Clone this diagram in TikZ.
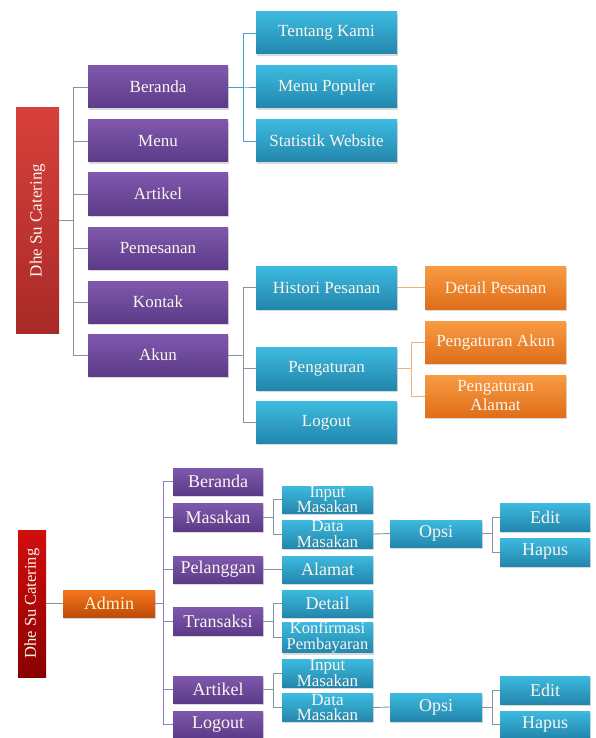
\documentclass[tikz,border=0pt]{standalone}
\usepackage{fontspec}
\setmainfont{Liberation Serif}
\usetikzlibrary{shadows}
\definecolor{purpT}{HTML}{7F58AD}
\definecolor{purpB}{HTML}{5C3B88}
\definecolor{cyanT}{HTML}{3DBAE0}
\definecolor{cyanB}{HTML}{2386AC}
\definecolor{oranT}{HTML}{F89B42}
\definecolor{oranB}{HTML}{E06E1A}
\definecolor{redT}{HTML}{D7403B}
\definecolor{redB}{HTML}{A82A27}
\definecolor{dredT}{HTML}{D20E0E}
\definecolor{dredB}{HTML}{8A0000}
\definecolor{admT}{HTML}{F5761E}
\definecolor{admB}{HTML}{BE4C08}
\definecolor{lgray}{HTML}{8494A3}
\definecolor{lteal}{HTML}{47A3C4}
\definecolor{lorng}{HTML}{F2B07A}
\definecolor{lpurp}{HTML}{8E80B6}
\definecolor{txtc}{HTML}{FBF6EE}
\tikzset{
  base/.style={inner sep=0pt, align=center, text=txtc,
    drop shadow={shadow xshift=1.2pt, shadow yshift=-1.8pt, opacity=0.3}},
  bigtxt/.style={font=\fontsize{17}{19}\selectfont},
  smltxt/.style={font=\fontsize{18}{15.5}\selectfont},
  twotxt/.style={font=\fontsize{17}{15.5}\selectfont},
  purp/.style={base, top color=purpT, bottom color=purpB},
  cyanbox/.style={base, top color=cyanT, bottom color=cyanB},
  oran/.style={base, top color=oranT, bottom color=oranB},
  redbox/.style={inner sep=0pt, align=center, text=txtc, top color=redT, bottom color=redB},
  dredbox/.style={inner sep=0pt, align=center, text=txtc, top color=dredT, bottom color=dredB},
  admbox/.style={base, top color=admT, bottom color=admB, text=txtc!85!yellow},
  cg/.style={draw=lgray, line width=0.9pt},
  ct/.style={draw=lteal, line width=0.9pt},
  co/.style={draw=lorng, line width=0.9pt},
  cp/.style={draw=lpurp, line width=0.9pt},
}
\newcommand\bx[7]{\node[#2, minimum width=#5pt, minimum height=#6pt] (#1) at (#3,#4) {#7};}
\begin{document}
\begin{tikzpicture}[x=1pt,y=-1pt]
\useasboundingbox (0,0) rectangle (595,738);
% ---------- top diagram ----------
\node[redbox, bigtxt, rotate=90, minimum width=225pt, minimum height=43pt] (r1) at (37.5,220.5) {Dhe Su Catering};
\bx{a1}{purp,bigtxt}{158}{87}{140}{42}{Beranda}
\bx{a2}{purp,bigtxt}{158}{141}{140}{42}{Menu}
\bx{a3}{purp,bigtxt}{158}{194}{140}{42}{Artikel}
\bx{a4}{purp,bigtxt}{158}{248}{140}{42}{Pemesanan}
\bx{a5}{purp,bigtxt}{158}{302}{140}{42}{Kontak}
\bx{a6}{purp,bigtxt}{158}{355}{140}{42}{Akun}
\bx{b1}{cyanbox,bigtxt}{326.5}{33}{141}{42}{Tentang Kami}
\bx{b2}{cyanbox,bigtxt}{326.5}{87}{141}{42}{Menu Populer}
\bx{b3}{cyanbox,bigtxt}{326.5}{141}{141}{42}{Statistik Website}
\bx{c1}{cyanbox,bigtxt}{326.5}{287.5}{141}{43}{Histori Pesanan}
\bx{c2}{cyanbox,bigtxt}{326.5}{368.5}{141}{43}{Pengaturan}
\bx{c3}{cyanbox,bigtxt}{326.5}{422.5}{141}{42}{Logout}
\bx{d1}{oran,bigtxt}{495.5}{287.5}{141}{43}{Detail Pesanan}
\bx{d2}{oran,bigtxt}{495.5}{342}{141}{42}{Pengaturan Akun}
\bx{d3}{oran,bigtxt}{495.5}{396}{141}{42}{Pengaturan\\Alamat}
\coordinate (t1) at (73,0);
\coordinate (t2) at (243,0);
\coordinate (t3) at (411,0);
\foreach \n in {a1,a2,a3,a4,a5,a6}
  \draw[cg] (r1.south) -- (r1.south -| t1) |- (\n.west);
\foreach \n in {b1,b2,b3}
  \draw[ct] (a1.east) -- (a1.east -| t2) |- (\n.west);
\foreach \n in {c1,c2,c3}
  \draw[cg] (a6.east) -- (a6.east -| t2) |- (\n.west);
\draw[co] (c1.east) -- (d1.west);
\foreach \n in {d2,d3}
  \draw[co] (c2.east) -- (c2.east -| t3) |- (\n.west);
% ---------- bottom diagram ----------
\node[dredbox, font=\fontsize{16.5}{18}\selectfont, rotate=90, minimum width=147pt, minimum height=28pt] (r2) at (32,603.5) {Dhe Su Catering};
\bx{adm}{admbox,smltxt}{109}{603.5}{92}{27}{Admin}
\bx{p1}{purp,smltxt}{218}{481.5}{90}{27}{Beranda}
\bx{p2}{purp,smltxt}{218}{517}{90}{28}{Masakan}
\bx{p3}{purp,smltxt}{218}{569.5}{90}{27}{Pelanggan}
\bx{p4}{purp,smltxt}{218}{621}{90}{28}{Transaksi}
\bx{p5}{purp,smltxt}{218}{689.5}{90}{27}{Artikel}
\bx{p6}{purp,smltxt}{218}{724.5}{90}{27}{Logout}
\bx{q1}{cyanbox,twotxt}{327.5}{499.5}{91}{27}{Input\\Masakan}
\bx{q2}{cyanbox,twotxt}{327.5}{534}{91}{28}{Data\\Masakan}
\bx{q3}{cyanbox,smltxt}{327.5}{569.5}{91}{27}{Alamat}
\bx{q4}{cyanbox,smltxt}{327.5}{603.5}{91}{27}{Detail}
\bx{q5}{cyanbox,font=\fontsize{16.5}{15.5}\selectfont}{327.5}{637.5}{91}{28}{Konfirmasi\\Pembayaran}
\bx{q6}{cyanbox,twotxt}{327.5}{673}{91}{28}{Input\\Masakan}
\bx{q7}{cyanbox,twotxt}{327.5}{707.5}{91}{28}{Data\\Masakan}
\bx{o1}{cyanbox,smltxt}{436}{533.5}{92}{27}{Opsi}
\bx{o2}{cyanbox,smltxt}{436}{707}{92}{28}{Opsi}
\bx{e1}{cyanbox,smltxt}{545}{517}{90}{28}{Edit}
\bx{h1}{cyanbox,smltxt}{545}{552}{90}{28}{Hapus}
\bx{e2}{cyanbox,smltxt}{545}{690}{90}{28}{Edit}
\bx{h2}{cyanbox,smltxt}{545}{724.5}{90}{27}{Hapus}
\coordinate (u1) at (163,0);
\coordinate (u2) at (273,0);
\coordinate (u3) at (492,0);
\draw[cg] (r2.south) -- (adm.west);
\foreach \n in {p1,p2,p3,p4,p5,p6}
  \draw[cp] (adm.east) -- (adm.east -| u1) |- (\n.west);
\foreach \n in {q1,q2}
  \draw[cg] (p2.east) -- (p2.east -| u2) |- (\n.west);
\draw[cg] (p3.east) -- (q3.west);
\foreach \n in {q4,q5}
  \draw[cg] (p4.east) -- (p4.east -| u2) |- (\n.west);
\foreach \n in {q6,q7}
  \draw[cg] (p5.east) -- (p5.east -| u2) |- (\n.west);
\draw[cg] (q2.east) -- (o1.west);
\draw[cg] (q7.east) -- (o2.west);
\foreach \n in {e1,h1}
  \draw[cg] (o1.east) -- (o1.east -| u3) |- (\n.west);
\foreach \n in {e2,h2}
  \draw[cg] (o2.east) -- (o2.east -| u3) |- (\n.west);
\end{tikzpicture}
\end{document}
